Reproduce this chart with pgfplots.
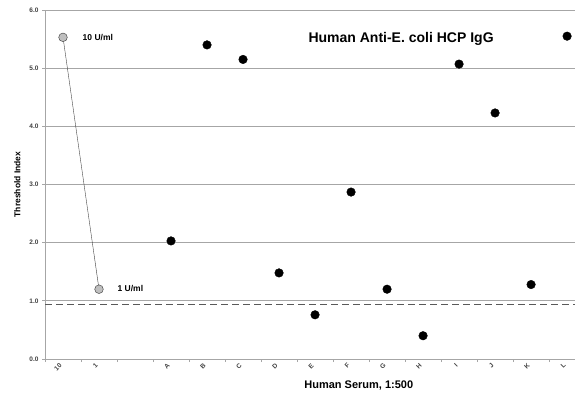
\documentclass[border=0pt]{standalone}
\usepackage{fontspec}
\setmainfont{Liberation Sans}
\usepackage{pgfplots}
\pgfplotsset{compat=1.18}
\begin{document}
\begin{tikzpicture}
\begin{axis}[
  scale only axis,
  width=530pt, height=349pt,
  xmin=-0.5, xmax=14.22,
  ymin=0, ymax=6,
  axis x line*=bottom, axis y line*=left,
  axis line style={gray!70, line width=0.8pt},
  ytick={0,1,2,3,4,5,6},
  yticklabel style={/pgf/number format/fixed,/pgf/number format/fixed zerofill,/pgf/number format/precision=1, font=\fontsize{6.5}{7}\selectfont\bfseries, text=black!75},
  /pgf/number format/assume math mode=true,
  ymajorgrids,
  major grid style={gray!70, line width=0.8pt},
  xtick={0,...,14},
  xticklabels={10,1,,A,B,C,D,E,F,G,H,I,J,K,L},
  xticklabel style={rotate=45, anchor=east, font=\fontsize{6.5}{7}\selectfont\bfseries, text=black!75},
  major x tick style={draw=none},
  minor xtick={-0.5,0.5,...,13.5},
  minor x tick style={gray!70, line width=0.8pt},
  minor tick length=3pt,
  major tick length=3pt,
  tick align=outside,
  every tick/.style={gray!70, line width=0.8pt},
  xlabel={\bfseries Human Serum, 1:500},
  xlabel style={font=\fontsize{11}{13}\selectfont, at={(rel axis cs:0.592,0)}, anchor=north, yshift=-18pt},
  ylabel={\bfseries Threshold Index},
  ylabel style={font=\fontsize{8.5}{10}\selectfont, yshift=2pt},
  clip=true,
]
\addplot[draw=gray!50!black, thin, mark=*, mark size=4.3pt, mark options={fill=gray!50, draw=gray!60!black, line width=0.5pt}] coordinates {(0,5.53) (1,1.20)};
\addplot[only marks, mark=*, mark size=4.3pt, mark options={fill=black, draw=black}] coordinates {
(3,2.03) (4,5.40) (5,5.15) (6,1.48) (7,0.76) (8,2.87) (9,1.20) (10,0.40) (11,5.07) (12,4.23) (13,1.28) (14,5.55)};
\addplot[draw=black!65, dash pattern=on 7pt off 4pt, line width=1.3pt] coordinates {(-0.5,0.94) (14.22,0.94)};
\node[font=\fontsize{8.5}{10}\selectfont\bfseries, anchor=west] at (axis cs:0.45,5.53) {10 U/ml};
\node[font=\fontsize{8.5}{10}\selectfont\bfseries, anchor=west] at (axis cs:1.42,1.22) {1 U/ml};
\node[font=\fontsize{14}{16}\selectfont\bfseries] at (axis cs:9.39,5.5) {Human Anti-E. coli HCP IgG};
\end{axis}
\pgfresetboundingbox
\path (current axis.south west)++(-45pt,-35pt) coordinate (bl);
\path (current axis.north east)++(0pt,10pt) coordinate (tr);
\path (bl) rectangle (tr);
\end{tikzpicture}
\end{document}
